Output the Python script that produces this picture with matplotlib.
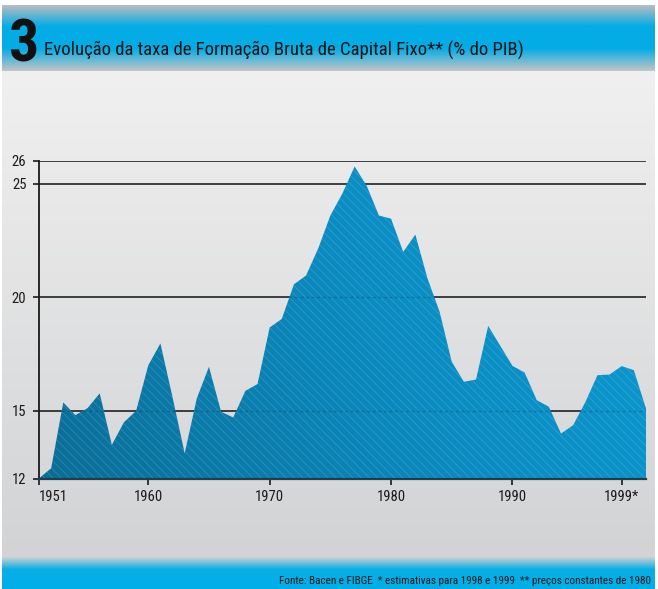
import numpy as np
import matplotlib
matplotlib.use("Agg")
import matplotlib.pyplot as plt
from matplotlib import font_manager
from matplotlib.colors import LinearSegmentedColormap

# ---------------------------------------------------------------- data
years = list(range(1951, 2002))
fbcf = [12.03, 12.47, 15.37, 14.81, 15.12, 15.77, 13.50, 14.50, 15.00, 17.00,
        17.97, 15.60, 13.13, 15.55, 16.94, 14.96, 14.71, 15.88, 16.18, 18.67,
        19.05, 20.57, 20.96, 22.15, 23.60, 24.58, 25.76, 24.90, 23.60, 23.46,
        22.00, 22.76, 20.83, 19.36, 17.16, 16.28, 16.38, 18.74, 17.86, 16.98,
        16.69, 15.47, 15.18, 14.00, 14.37, 15.38, 16.57, 16.60, 16.97, 16.79,
        15.10]
x_ticks = [1951, 1960, 1970, 1980, 1990, 1999]
x_tick_labels = ["1951", "1960", "1970", "1980", "1990", "1999*"]
y_ticks = [12, 15, 20, 25, 26]
y_tick_labels = ["12", "15", "20", "25", "26"]

title_number = "3"
title_text = "Evolução da taxa de Formação Bruta de Capital Fixo** (% do PIB)"
source_text = ("Fonte: Bacen e FIBGE  * estimativas para 1998 e 1999  "
               "** preços constantes de 1980")

# ---------------------------------------------------------------- fonts
available = {f.name for f in font_manager.fontManager.ttflist}
NARROW = "DejaVu Sans"
for cand in ["Liberation Sans Narrow", "Roboto Condensed", "Liberation Sans"]:
    if cand in available:
        NARROW = cand
        break
plt.rcParams["font.family"] = [NARROW, "DejaVu Sans"]
plt.rcParams["hatch.linewidth"] = 0.45

W, H = 658, 589
fig = plt.figure(figsize=(W / 100, H / 100), dpi=100)
fig.patch.set_facecolor("white")

# ---------------------------------------------------------------- background panels (pixel coords)
bg = fig.add_axes([0, 0, 1, 1], zorder=0)
bg.set_autoscale_on(False)
bg.set_xlim(0, W)
bg.set_ylim(H, 0)
bg.axis("off")


def vgrad(ax, x0, x1, y0, y1, stops):
    cmap = LinearSegmentedColormap.from_list("g", stops)
    arr = np.linspace(0, 1, 256)[:, None]
    ax.imshow(arr, cmap=cmap, vmin=0, vmax=1, extent=(x0, x1, y1, y0),
              origin="upper", aspect="auto", interpolation="bilinear")


vgrad(bg, 2, 655, 71, 557, [(0, "#f0f0f0"), (1, "#d2d3d5")])
vgrad(bg, 2, 655, 5, 71, [(0, "#babdc0"), (0.32, "#04ace6"),
                          (0.66, "#04ace6"), (1, "#c3c5c7")])
vgrad(bg, 2, 655, 557, 589, [(0, "#cfd1d3"), (0.38, "#08afe6"), (1, "#00aee8")])

renderer = fig.canvas.get_renderer()


def fit_width(txt, target):
    bb = txt.get_window_extent(renderer=renderer)
    txt.set_fontsize(txt.get_fontsize() * target / bb.width)


bg.text(9, 61, title_number, fontsize=43, fontweight="bold", color="#111111",
        ha="left", va="baseline")
t_title = bg.text(44, 56, title_text, fontsize=14, color="#141414",
                  ha="left", va="baseline")
fit_width(t_title, 483)
t_src = bg.text(651, 581, source_text, fontsize=9, color="#1a1a1a",
                ha="right", va="center")
fit_width(t_src, 372)

# ---------------------------------------------------------------- chart
ax = fig.add_axes([39 / W, 1 - 479 / H, 607 / W, 318 / H], zorder=1)
ax.patch.set_visible(False)
ax.set_xlim(1951, 2001)
ax.set_ylim(12, 26)

# horizontal rules behind the area
ax.set_axisbelow(True)
ax.yaxis.grid(True, color="#222222", linewidth=1.2)
ax.xaxis.grid(False)

# gradient area clipped to the series outline
area = ax.fill_between(years, fbcf, 12, facecolor="none", edgecolor="none")
area_path = area.get_paths()[0]
nx, ny = 400, 200
tt = np.linspace(0, 1, nx)[None, :]
uu = np.linspace(0, 1, ny)[:, None]
shade = 0.75 * tt + 0.25 * uu
fill_cmap = LinearSegmentedColormap.from_list(
    "fill", [(0, "#0a6d96"), (0.55, "#0a8cc2"), (1, "#0a9bd2")])
img = ax.imshow(shade, cmap=fill_cmap, vmin=0, vmax=1,
                extent=(1951, 2001, 12, 26), origin="lower", aspect="auto",
                interpolation="bilinear", zorder=1)
img.set_clip_path(area_path, transform=ax.transData)

# fine diagonal stripes over the area
ax.fill_between(years, fbcf, 12, facecolor="none",
                edgecolor=(1, 1, 1, 0.2), hatch="\\\\\\\\", linewidth=0,
                zorder=2)

# faint rules showing through the area
for lvl in (15, 20):
    ln = ax.axhline(lvl, color="#0b3040", linewidth=1.0, alpha=0.3,
                    linestyle=(0, (2, 2)), zorder=3)
    ln.set_clip_path(area_path, transform=ax.transData)

for side in ("top", "right"):
    ax.spines[side].set_visible(False)
ax.spines["left"].set_color("#1a1a1a")
ax.spines["left"].set_linewidth(1.3)
ax.spines["bottom"].set_color("#1c3e50")
ax.spines["bottom"].set_linewidth(1.6)
ax.spines["bottom"].set_zorder(4)

ax.set_xticks(x_ticks)
ax.set_xticklabels(x_tick_labels)
ax.set_yticks(y_ticks)
ax.set_yticklabels(y_tick_labels)
ax.tick_params(axis="x", direction="out", length=4, width=1.2,
               color="#1a1a1a", labelsize=10.5, labelcolor="#1a1a1a", pad=4)
ax.tick_params(axis="y", direction="out", length=4, width=1.2,
               color="#1a1a1a", labelsize=10.5, labelcolor="#1a1a1a", pad=5)
ax.get_xticklabels()[0].set_horizontalalignment("left")

fig.savefig("out.png", dpi=100)
